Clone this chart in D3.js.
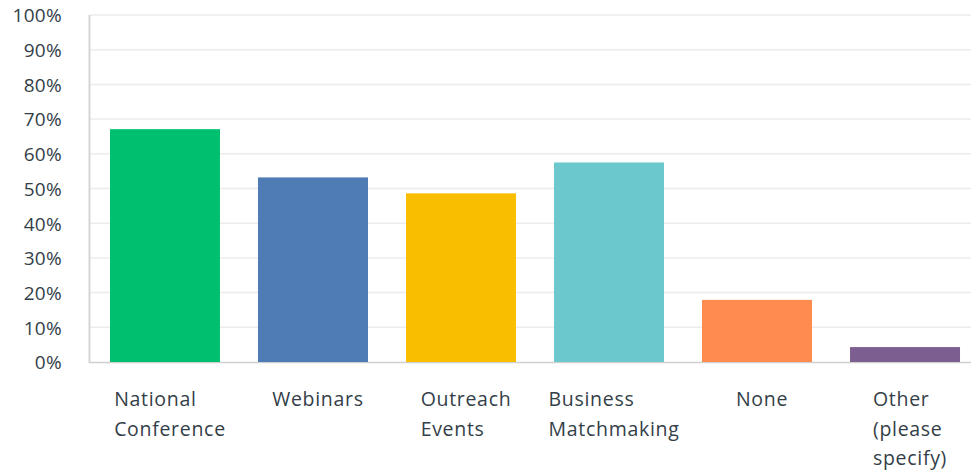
<!DOCTYPE html>
<html lang="en">
<head>
<meta charset="utf-8"/>
<style>
  body { margin: 0; background: #ffffff; }
  text { font-family: "Open Sans", sans-serif; fill: #333e48; }
  .tick text { font-size: 19px; letter-spacing: 0.3px; }
  .cat { font-size: 19.5px; letter-spacing: 0.7px; }
</style>
</head>
<body>
<svg id="chart" width="971" height="475"></svg>
<script src="https://d3js.org/d3.v7.min.js"></script>
<script>
  // data
  let categories = [["National", "Conference"], ["Webinars"], ["Outreach", "Events"],
                    ["Business", "Matchmaking"], ["None"], ["Other", "(please", "specify)"]]
  let values = [67.1, 53.2, 48.6, 57.5, 17.9, 4.3]
  let yTicks = [0, 10, 20, 30, 40, 50, 60, 70, 80, 90, 100]
  let colors = ["#00bf6f", "#507cb6", "#f9be00", "#6bc8cd", "#ff8b4f", "#7d5e90"]

  let svg = d3.select("#chart")
  let plotLeft = 90, plotRight = 980, plotTop = 15, plotBottom = 362

  let x = d3.scaleBand()
      .domain(d3.range(values.length))
      .range([plotLeft, plotRight])
      .paddingInner(0.2568)
      .paddingOuter(0.135)

  let y = d3.scaleLinear().domain([0, 100]).range([plotBottom, plotTop])

  // grid lines
  svg.append("g")
    .selectAll("line")
    .data(yTicks.slice(1))
    .enter().append("line")
    .attr("x1", plotLeft).attr("x2", 971)
    .attr("y1", d => y(d)).attr("y2", d => y(d))
    .attr("stroke", "#ececec").attr("stroke-width", 1.5)

  // y axis
  let yAxis = svg.append("g")
    .attr("transform", "translate(" + (plotLeft - 28) + ",0)")
    .call(d3.axisLeft(y).tickValues(yTicks).tickFormat(d => d + "%").tickSize(0).tickPadding(0))
  yAxis.select(".domain").remove()
  yAxis.selectAll("text").attr("dy", "0.36em")

  // axis lines
  svg.append("line")
    .attr("x1", plotLeft - 0.5).attr("x2", plotLeft - 0.5).attr("y1", plotTop).attr("y2", plotBottom + 1)
    .attr("stroke", "#d6d6d6").attr("stroke-width", 2)
  svg.append("line")
    .attr("x1", plotLeft - 1).attr("x2", 971).attr("y1", plotBottom + 0.5).attr("y2", plotBottom + 0.5)
    .attr("stroke", "#d0d0d0").attr("stroke-width", 1.5)

  // bars
  svg.selectAll("rect.bar")
    .data(values)
    .enter().append("rect")
    .attr("class", "bar")
    .attr("x", (d, i) => x(i))
    .attr("width", x.bandwidth())
    .attr("y", d => y(d))
    .attr("height", d => plotBottom - y(d))
    .attr("fill", (d, i) => colors[i])

  // category labels: block centred under the bar, lines left aligned
  categories.forEach((lines, i) => {
    let g = svg.append("text").attr("class", "cat")
    lines.forEach((t, j) => {
      g.append("tspan").attr("x", 0).attr("y", 406 + j * 29.5).text(t)
    })
    let w = d3.max(g.selectAll("tspan").nodes(), n => n.getComputedTextLength())
    let cx = x(i) + x.bandwidth() / 2 + 5
    g.selectAll("tspan").attr("x", cx - w / 2)
  })
</script>
</body>
</html>
